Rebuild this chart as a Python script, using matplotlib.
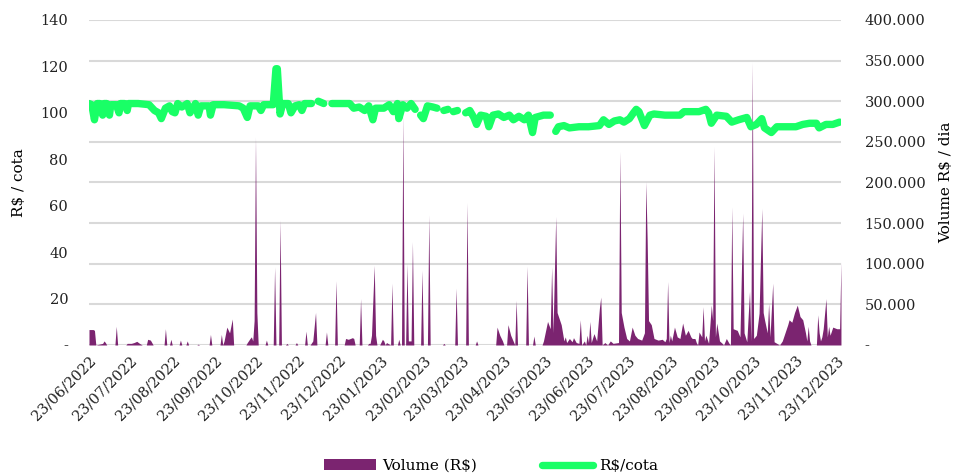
import matplotlib
matplotlib.use("Agg")
import matplotlib.pyplot as plt
from matplotlib.ticker import FuncFormatter, MultipleLocator
import numpy as np
import pandas as pd

plt.rcParams["font.family"] = ["DejaVu Serif"]

# volume (R$ / dia)
vol_dates = [
    "2022-06-23", "2022-06-26", "2022-06-27", "2022-06-28",
    "2022-07-03", "2022-07-04", "2022-07-05", "2022-07-06",
    "2022-07-12", "2022-07-13", "2022-07-14",
    "2022-07-20", "2022-07-21", "2022-07-24", "2022-07-26", "2022-07-28", "2022-07-30", "2022-08-01",
    "2022-08-04", "2022-08-05", "2022-08-07", "2022-08-08", "2022-08-09",
    "2022-08-17", "2022-08-18", "2022-08-19",
    "2022-08-21", "2022-08-22", "2022-08-23",
    "2022-08-28", "2022-08-29", "2022-08-30",
    "2022-09-02", "2022-09-03", "2022-09-04",
    "2022-09-10", "2022-09-11", "2022-09-12",
    "2022-09-19", "2022-09-20", "2022-09-21",
    "2022-09-27", "2022-09-28", "2022-09-29", "2022-09-30", "2022-10-02", "2022-10-04", "2022-10-06", "2022-10-07",
    "2022-10-16", "2022-10-17", "2022-10-19", "2022-10-20", "2022-10-21", "2022-10-22", "2022-10-23", "2022-10-24", "2022-10-25",
    "2022-10-30", "2022-10-31", "2022-11-01",
    "2022-11-05", "2022-11-06", "2022-11-07",
    "2022-11-09", "2022-11-10", "2022-11-11",
    "2022-11-14", "2022-11-15", "2022-11-16",
    "2022-11-21", "2022-11-22", "2022-11-23",
    "2022-11-28", "2022-11-29", "2022-11-30",
    "2022-12-02", "2022-12-04", "2022-12-06", "2022-12-07",
    "2022-12-13", "2022-12-14", "2022-12-15",
    "2022-12-20", "2022-12-21", "2022-12-22",
    "2022-12-27", "2022-12-28", "2022-12-30", "2023-01-02", "2023-01-03", "2023-01-04",
    "2023-01-07", "2023-01-08", "2023-01-09",
    "2023-01-13", "2023-01-14", "2023-01-15", "2023-01-16", "2023-01-18", "2023-01-19", "2023-01-20",
    "2023-01-22", "2023-01-24", "2023-01-25", "2023-01-26",
    "2023-01-27", "2023-01-30", "2023-01-31", "2023-02-01",
    "2023-02-04", "2023-02-05", "2023-02-06", "2023-02-07", "2023-02-08", "2023-02-09",
    "2023-02-10", "2023-02-11", "2023-02-12", "2023-02-14", "2023-02-15", "2023-02-16",
    "2023-02-21", "2023-02-22", "2023-02-23",
    "2023-02-26", "2023-02-27", "2023-02-28",
    "2023-03-09", "2023-03-10", "2023-03-11",
    "2023-03-18", "2023-03-19", "2023-03-20",
    "2023-03-26", "2023-03-27", "2023-03-28",
    "2023-04-02", "2023-04-03", "2023-04-04",
    "2023-04-17", "2023-04-18", "2023-04-20", "2023-04-22", "2023-04-23",
    "2023-04-25", "2023-04-26", "2023-04-28", "2023-04-30", "2023-05-01", "2023-05-02", "2023-05-03",
    "2023-05-09", "2023-05-10", "2023-05-11",
    "2023-05-14", "2023-05-15", "2023-05-16",
    "2023-05-21", "2023-05-22", "2023-05-25", "2023-05-27", "2023-05-28", "2023-05-29", "2023-05-31",
    "2023-06-01", "2023-06-04", "2023-06-06", "2023-06-07", "2023-06-08", "2023-06-10", "2023-06-12",
    "2023-06-13", "2023-06-15", "2023-06-17", "2023-06-18", "2023-06-19", "2023-06-21", "2023-06-22",
    "2023-06-23", "2023-06-24", "2023-06-25", "2023-06-26", "2023-06-28", "2023-06-30", "2023-07-02",
    "2023-07-03", "2023-07-04", "2023-07-06", "2023-07-08", "2023-07-10", "2023-07-12", "2023-07-16",
    "2023-07-17", "2023-07-18", "2023-07-20", "2023-07-22", "2023-07-24", "2023-07-26", "2023-07-28",
    "2023-07-30", "2023-08-02", "2023-08-04", "2023-08-05", "2023-08-06", "2023-08-07", "2023-08-09",
    "2023-08-11", "2023-08-14", "2023-08-17", "2023-08-19", "2023-08-20", "2023-08-21", "2023-08-22",
    "2023-08-23", "2023-08-24", "2023-08-26", "2023-08-28", "2023-08-30", "2023-09-01", "2023-09-03",
    "2023-09-05", "2023-09-07", "2023-09-08", "2023-09-10", "2023-09-11", "2023-09-12", "2023-09-13",
    "2023-09-15", "2023-09-16", "2023-09-17", "2023-09-18", "2023-09-20", "2023-09-22", "2023-09-23",
    "2023-09-24", "2023-09-25", "2023-09-26", "2023-09-28", "2023-09-30", "2023-10-01", "2023-10-03",
    "2023-10-05", "2023-10-06", "2023-10-07", "2023-10-08", "2023-10-11", "2023-10-13", "2023-10-15",
    "2023-10-16", "2023-10-18", "2023-10-20", "2023-10-21", "2023-10-22", "2023-10-23", "2023-10-25",
    "2023-10-27", "2023-10-29", "2023-10-30", "2023-10-31", "2023-11-02", "2023-11-03", "2023-11-04",
    "2023-11-06", "2023-11-07", "2023-11-09", "2023-11-11", "2023-11-13", "2023-11-15", "2023-11-17",
    "2023-11-18", "2023-11-20", "2023-11-22", "2023-11-24", "2023-11-26", "2023-11-28", "2023-11-30",
    "2023-12-01", "2023-12-02", "2023-12-03", "2023-12-04", "2023-12-08", "2023-12-09", "2023-12-10",
    "2023-12-11", "2023-12-12", "2023-12-13", "2023-12-15", "2023-12-16", "2023-12-17", "2023-12-18",
    "2023-12-20", "2023-12-23", "2023-12-25", "2023-12-26",
]
vol_k = [
    19, 19, 18, 0,
    2, 5, 3, 0,
    0, 23, 0,
    0, 2, 2, 3, 4.5, 2, 0,
    0, 7, 6, 3, 0,
    0, 20, 0,
    0, 7, 0,
    0, 6, 0,
    0, 5, 0,
    0, 1, 0,
    0, 13, 0,
    0, 13, 0, 5, 22, 15, 32, 0,
    0, 3, 8, 10, 5, 30, 256, 40, 0,
    0, 6, 0,
    0, 96, 0,
    0, 154, 0,
    0, 2, 0,
    0, 3, 0,
    0, 17, 0,
    0, 5, 40, 0,
    0, 16, 0,
    0, 79, 0,
    0, 8, 7, 9, 8, 0,
    0, 57, 0,
    0, 2, 2, 12, 98, 12, 0,
    0, 7, 5, 0,
    3, 0, 76, 0,
    0, 7, 0, 0, 283, 0,
    0, 100, 5, 5, 127, 0,
    0, 92, 0,
    0, 160, 0,
    0, 2, 0,
    0, 70, 0,
    0, 175, 0,
    0, 5, 0,
    0, 22, 12, 5, 0,
    0, 25, 12, 4, 0, 55, 0,
    0, 97, 0,
    0, 11, 0,
    0, 5, 29, 20, 96, 15, 158,
    40, 25, 5, 10, 3, 8, 4,
    9, 3, 2, 31, 0, 5, 0,
    12, 3, 29, 3, 14, 5, 45,
    59, 0, 3, 0, 5, 2, 3,
    238, 40, 22, 8, 5, 22, 12,
    8, 6, 15, 201, 129, 30, 25,
    8, 6, 7, 4, 8, 78, 3,
    12, 5, 22, 10, 8, 27, 12,
    18, 10, 8, 8, 3, 0, 16,
    10, 47, 5, 12, 2, 49, 30,
    244, 10, 27, 5, 2, 0, 8,
    2, 0, 170, 20, 18, 10, 162,
    15, 4, 66, 5, 348, 8, 12,
    39, 168, 40, 31, 15, 51, 10,
    76, 4, 2, 0, 5, 15, 25,
    31, 28, 40, 49, 35, 31, 15,
    5, 23, 5, 0, 0, 37, 15,
    5, 10, 20, 57, 10, 23, 12,
    22, 20, 20, 102,
]

# R$/cota, None = no quote that day (gap in the line)
price_dates = [
    "2022-06-23", "2022-06-25", "2022-06-27", "2022-06-29", "2022-07-01", "2022-07-03", "2022-07-04",
    "2022-07-06", "2022-07-08", "2022-07-09", "2022-07-13", "2022-07-15", "2022-07-16", "2022-07-19",
    "2022-07-21", "2022-07-22", "2022-07-29", "2022-08-06", "2022-08-10", "2022-08-13", "2022-08-15",
    "2022-08-18", "2022-08-21", "2022-08-23", "2022-08-25", "2022-08-27", "2022-08-30", "2022-09-03",
    "2022-09-05", "2022-09-09", "2022-09-11", "2022-09-13", "2022-09-19", "2022-09-20", "2022-09-22",
    "2022-09-30", "2022-10-11", "2022-10-14", "2022-10-17", "2022-10-19", "2022-10-25", "2022-10-27",
    "2022-10-29", "2022-11-05", "2022-11-07", "2022-11-08", "2022-11-10", "2022-11-12", "2022-11-16",
    "2022-11-18", "2022-11-21", "2022-11-24", "2022-11-26", "2022-11-28", "2022-12-03", "2022-12-05",
    "2022-12-08", "2022-12-12", "2022-12-15", "2022-12-18", "2022-12-27", "2022-12-31", "2023-01-03",
    "2023-01-07", "2023-01-11", "2023-01-14", "2023-01-17", "2023-01-19", "2023-01-25", "2023-01-29",
    "2023-02-01", "2023-02-04", "2023-02-05", "2023-02-08", "2023-02-11", "2023-02-14", "2023-02-17",
    "2023-02-19", "2023-02-21", "2023-02-23", "2023-02-26", "2023-03-02", "2023-03-05", "2023-03-07",
    "2023-03-10", "2023-03-13", "2023-03-15", "2023-03-17", "2023-03-20", "2023-03-23", "2023-03-26",
    "2023-03-29", "2023-04-01", "2023-04-03", "2023-04-06", "2023-04-10", "2023-04-12", "2023-04-15",
    "2023-04-19", "2023-04-23", "2023-04-27", "2023-04-30", "2023-05-04", "2023-05-08", "2023-05-11",
    "2023-05-14", "2023-05-16", "2023-05-22", "2023-05-27", "2023-05-29", "2023-05-31", "2023-06-02",
    "2023-06-06", "2023-06-10", "2023-06-17", "2023-06-24", "2023-07-02", "2023-07-05", "2023-07-09",
    "2023-07-13", "2023-07-17", "2023-07-20", "2023-07-24", "2023-07-27", "2023-07-29", "2023-07-31",
    "2023-08-04", "2023-08-08", "2023-08-11", "2023-08-19", "2023-08-30", "2023-09-02", "2023-09-13",
    "2023-09-18", "2023-09-20", "2023-09-22", "2023-09-26", "2023-10-03", "2023-10-07", "2023-10-12",
    "2023-10-18", "2023-10-21", "2023-10-25", "2023-10-29", "2023-10-31", "2023-11-05", "2023-11-09",
    "2023-11-16", "2023-11-23", "2023-11-28", "2023-12-03", "2023-12-08", "2023-12-10", "2023-12-15",
    "2023-12-20", "2023-12-25",
]
price = [
    104, 103.5, 97, 104, 104, 99, 104,
    104, 99, 103.5, 103.5, 100, 104, 104,
    101, 104, 104, 103.5, 101, 100, 97.5,
    102, 103, 100.5, 100, 104, 102.5, 104,
    100, 104, 99, 103, 103, 99, 103.5,
    103.5, 103, 102, 98, 103, 103, 101,
    103.5, 103.5, 119, 119, 99.5, 104, 104,
    100, 103, 103.5, 101, 104, 104, None,
    105, 104, None, 104, 104, 104, 102,
    102.5, 101, 103, 97, 102, 102, 103.5,
    100.5, 104, 97.5, 103.5, 102, 104, 101.5,
    None, 99, 97.5, 103, 102.5, 102, None,
    101, 101.5, None, 100.5, 101, None, 100,
    101, 98, 95, 99, 98.5, 94, 99,
    99.5, 98, 99, 97, 98.5, 97, 99,
    91.5, 98, 99, 99, None, 92, 94,
    94.5, 93.5, 94, 94, 94.5, 97, 95,
    96.5, 97, 96, 97.5, 100, 101.5, 100.5,
    94.5, 99, 99.5, 99, 99, 100.5, 100.5,
    101.5, 100, 95.5, 99, 98.5, 96, 97,
    98, 94, 95, 97.5, 93.5, 91.5, 94,
    94, 94, 95, 95.5, 95.5, 93.5, 95,
    95, 96,
]

tick_dates = pd.date_range("2022-06-01", periods=19, freq="MS") + pd.Timedelta(days=22)
tick_labels = [d.strftime("%d/%m/%Y") for d in tick_dates]

purple = "#7b2470"
green = "#19ff66"

vx = pd.to_datetime(vol_dates)
vy = np.array(vol_k, dtype=float) * 1000
px = pd.to_datetime(price_dates)
py = np.array([np.nan if p is None else p for p in price], dtype=float)

fig = plt.figure(figsize=(9.6, 4.75), dpi=100)
ax = fig.add_axes([0.0927, 0.2737, 0.7833, 0.6843])
ax2 = ax.twinx()

# volume on the bottom axes, right-hand scale
ax.fill_between(vx, vy, 0, color=purple, linewidth=0, label="Volume (R$)")
ax.set_ylim(0, 400000)
ax.yaxis.set_major_locator(MultipleLocator(50000))
ax.yaxis.set_major_formatter(FuncFormatter(lambda v, p: "-" if v == 0 else f"{v:,.0f}".replace(",", ".")))
ax.yaxis.tick_right()
ax.yaxis.set_label_position("right")
ax.set_ylabel("Volume R$ / dia", fontsize=11, labelpad=10)
ax.grid(axis="y", color="#d9d9d9", linewidth=1.5)
ax.set_axisbelow(True)

# price on top, left-hand scale
ax2.plot(px, py, color=green, linewidth=5.3, solid_capstyle="round", solid_joinstyle="round", label="R$/cota")
ax2.set_ylim(0, 140)
ax2.yaxis.set_major_locator(MultipleLocator(20))
ax2.yaxis.set_major_formatter(FuncFormatter(lambda v, p: "-" if v == 0 else f"{v:.0f}"))
ax2.yaxis.tick_left()
ax2.yaxis.set_label_position("left")
ax2.set_ylabel("R$ / cota", fontsize=11, labelpad=10)

ax.set_xlim(pd.Timestamp("2022-06-23"), pd.Timestamp("2023-12-26"))
ax.set_xticks(tick_dates)
ax.set_xticklabels(tick_labels, rotation=45, ha="right", rotation_mode="anchor")

for a in (ax, ax2):
    for s in a.spines.values():
        s.set_visible(False)
    a.tick_params(length=0, labelsize=10.5, colors="#222222")
ax.tick_params(axis="y", pad=17)
ax2.tick_params(axis="y", pad=15)
ax.tick_params(axis="x", pad=6)

h1, l1 = ax.get_legend_handles_labels()
h2, l2 = ax2.get_legend_handles_labels()
fig.legend(h1 + h2, l1 + l2, loc="lower center", bbox_to_anchor=(0.512, -0.025), ncol=2, frameon=False,
           fontsize=11, handlelength=3.4, columnspacing=4.2, handletextpad=0.4)

fig.savefig("out.png", dpi=100)
